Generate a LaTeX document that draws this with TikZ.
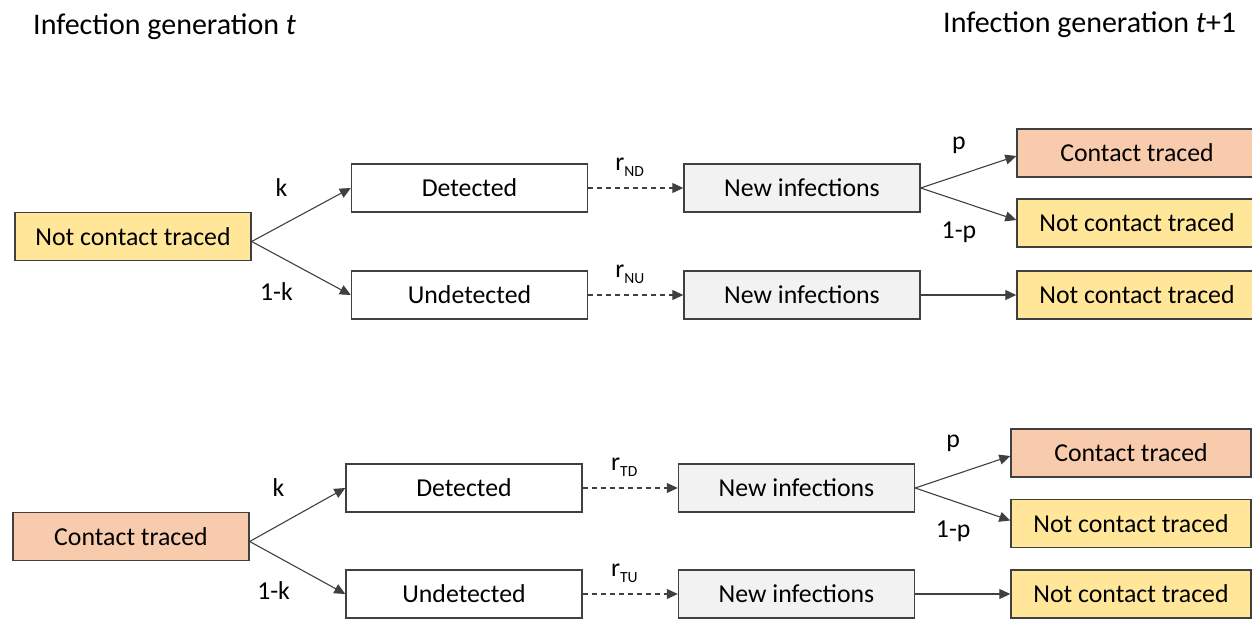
\documentclass[tikz,border=0pt]{standalone}
\usepackage{fontspec}
\setmainfont{Carlito}
\usetikzlibrary{positioning, arrows.meta}

\definecolor{traced}{HTML}{F8CBAD}
\definecolor{nottraced}{HTML}{FFE699}
\definecolor{newinf}{HTML}{F2F2F2}
\definecolor{edgegray}{HTML}{404040}

\newcommand{\rate}[1]{r\raisebox{-6pt}{\fontsize{15.5pt}{16pt}\selectfont #1}}

\begin{document}
\begin{tikzpicture}[x=1pt, y=-1pt, on grid, >={Triangle[length=11pt, width=10pt]},
    box/.style={draw=edgegray, line width=1.4pt, minimum width=236pt, minimum height=48pt,
        inner sep=0pt, font=\fontsize{25.8pt}{31pt}\selectfont},
    wide/.style={box, minimum width=240pt},
    lbl/.style={inner sep=0pt, font=\fontsize{25.8pt}{31pt}\selectfont},
    title/.style={inner sep=0pt, anchor=base west, font=\fontsize{30pt}{36pt}\selectfont},
    every edge/.append style={draw=edgegray, line width=1.1pt}]
    \useasboundingbox (0,0) rectangle (1252,618);

    % Titles
    \node[title] (gen) at (33,35) {Infection generation \textit{t}};
    \node[title] (gen1) at (943,33) {Infection generation \textit{t}+1};

    % Nodes: not contact traced at t
    \node[box, fill=nottraced] (nct) at (133,236.5) {Not contact traced};
    \node[box] (det) [above right=48.5pt and 336.5pt of nct] {Detected};
    \node[box] (undet) [below right=58.5pt and 336.5pt of nct] {Undetected};
    \node[box, fill=newinf] (ni1) [right=332.5pt of det] {New infections};
    \node[box, fill=newinf] (ni2) [right=332.5pt of undet] {New infections};
    \node[wide, fill=traced] (ct1) [above right=35pt and 335pt of ni1] {Contact traced};
    \node[wide, fill=nottraced] (nct1) [below right=35pt and 335pt of ni1] {Not contact traced};
    \node[wide, fill=nottraced] (nct2) [right=335pt of ni2] {Not contact traced};

    % Nodes: contact traced at t
    \node[box, fill=traced] (ct) at (131,536.5) {Contact traced};
    \node[box] (det2) [above right=48.5pt and 333pt of ct] {Detected};
    \node[box] (undet2) [below right=57.5pt and 333pt of ct] {Undetected};
    \node[box, fill=newinf] (ni3) [right=332.5pt of det2] {New infections};
    \node[box, fill=newinf] (ni4) [right=332.5pt of undet2] {New infections};
    \node[wide, fill=traced] (ct3) [above right=35pt and 334.5pt of ni3] {Contact traced};
    \node[wide, fill=nottraced] (nct3) [below right=35.5pt and 334.5pt of ni3] {Not contact traced};
    \node[wide, fill=nottraced] (nct4) [right=334.5pt of ni4] {Not contact traced};

    % Transitions, top half
    \path[->]
        ([yshift=-5pt]nct.east) edge node[lbl, pos=0.3, yshift=38pt] {k} (det.west)
                                edge node[lbl, pos=0.25, yshift=-37pt] {1-k} (undet.west)
        (det) edge[dash pattern=on 5pt off 4pt] node[lbl, xshift=-6pt, yshift=21pt] {\rate{ND}} (ni1)
        (undet) edge[dash pattern=on 5pt off 4pt] node[lbl, xshift=-6pt, yshift=21pt] {\rate{NU}} (ni2)
        (ni1.east) edge node[lbl, pos=0.4, yshift=30pt] {p} ([yshift=-3pt]ct1.west)
                   edge node[lbl, pos=0.4, yshift=-31pt] {1-p} ([yshift=3pt]nct1.west)
        (ni2) edge (nct2);

    % Transitions, bottom half
    \path[->]
        ([yshift=-5pt]ct.east) edge node[lbl, pos=0.3, yshift=38pt] {k} (det2.west)
                               edge node[lbl, pos=0.25, yshift=-36pt] {1-k} (undet2.west)
        (det2) edge[dash pattern=on 5pt off 4pt] node[lbl, xshift=-6pt, yshift=21pt] {\rate{TD}} (ni3)
        (undet2) edge[dash pattern=on 5pt off 4pt] node[lbl, xshift=-6pt, yshift=21pt] {\rate{TU}} (ni4)
        (ni3.east) edge node[lbl, pos=0.4, yshift=32pt] {p} ([yshift=-3pt]ct3.west)
                   edge node[lbl, pos=0.4, yshift=-30pt] {1-p} ([yshift=3pt]nct3.west)
        (ni4) edge (nct4);

\end{tikzpicture}
\end{document}
